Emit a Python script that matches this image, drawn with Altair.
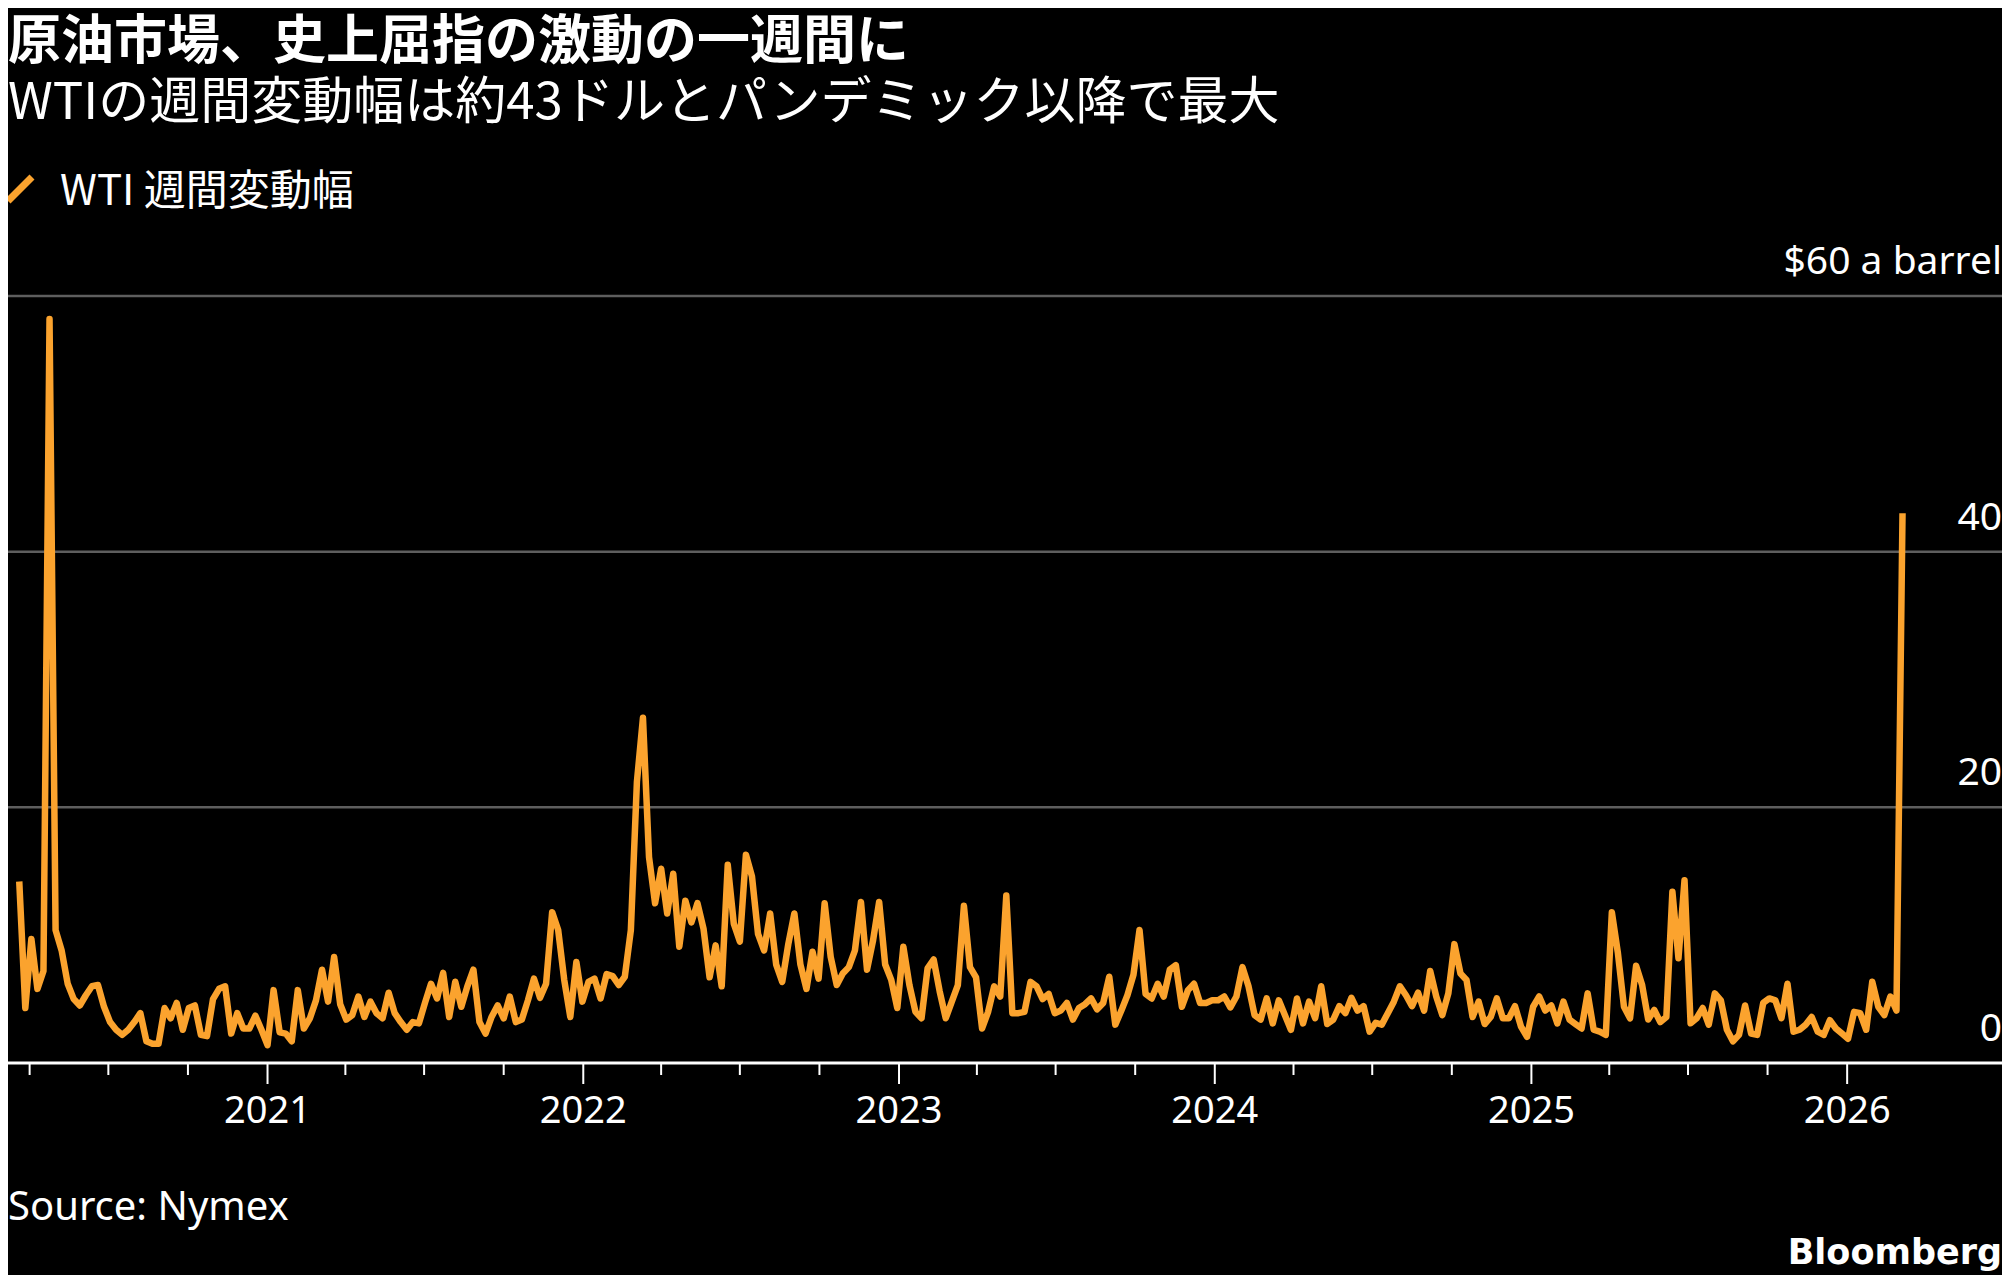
import altair as alt
import pandas as pd

# ---- data (weekly WTI trading range, USD/barrel) ----
wti_2020 = [14.2, 4.3, 9.7, 5.8, 7.2, 58.2, 10.4, 8.8, 6.2, 5.0, 4.5, 5.3, 6.0, 6.1,
            4.4, 3.2, 2.6, 2.2, 2.6, 3.2, 3.9, 1.7, 1.5, 1.5, 4.3, 3.5, 4.7, 2.6,
            4.3, 4.5, 2.2, 2.1, 5.0, 5.8, 6.0, 2.3, 3.9, 2.7, 2.7, 3.7, 2.6]
wti_2021 = [1.4, 5.7, 2.4, 2.3, 1.7, 5.7, 2.7, 3.5, 4.9, 7.3, 4.8, 8.3, 4.6, 3.4,
            3.75, 5.2, 3.6, 4.8, 3.9, 3.5, 5.5, 3.9, 3.2, 2.6, 3.2, 3.1, 4.7, 6.2,
            5.05, 7.05, 3.6, 6.35, 4.4, 6.0, 7.3, 3.2, 2.3, 3.6, 4.5, 3.5, 5.2, 3.2,
            3.4, 4.9, 6.6, 5.1, 6.2, 11.8, 10.4, 6.5, 3.6, 7.9, 4.8]
wti_2022 = [6.35, 6.6, 5.05, 6.95, 6.8, 6.1, 6.75, 10.4, 22.0, 27.0, 16.1, 12.5,
            15.2, 11.7, 14.8, 9.1, 12.7, 11.0, 12.5, 10.5, 6.7, 9.2, 6.0, 15.5,
            10.9, 9.5, 16.3, 14.6, 10.1, 8.8, 11.7, 7.7, 6.35, 9.3, 11.7, 7.7, 5.8,
            8.7, 6.6, 12.5, 8.3, 6.1, 7.0, 7.5, 8.8, 12.6, 7.3, 9.6, 12.6, 7.7, 6.5, 4.3]
wti_2023 = [9.1, 6.1, 4.0, 3.5, 7.4, 8.1, 5.6, 3.5, 4.8, 6.1, 12.3, 7.5, 6.7, 2.7,
            4.0, 6.0, 5.2, 13.1, 3.9, 3.9, 4.0, 6.35, 6.0, 5.0, 5.4, 3.9, 4.1, 4.7,
            3.4, 4.3, 4.6, 5.05, 4.2, 4.7, 6.75, 3.0, 4.1, 5.3, 6.9, 10.4, 5.4, 5.05,
            6.2, 5.2, 7.3, 7.65, 4.4, 5.7, 6.2, 4.7, 4.7, 4.9]
wti_2024 = [4.9, 5.2, 4.35, 5.2, 7.5, 6.0, 3.75, 3.4, 5.05, 3.1, 4.9, 3.75, 2.6,
            5.05, 3.1, 4.8, 3.5, 6.0, 3.05, 3.4, 4.45, 3.9, 5.1, 4.1, 4.45, 2.45,
            3.15, 3.0, 3.9, 4.8, 6.0, 5.3, 4.45, 5.5, 4.1, 7.2, 5.2, 3.75, 5.45, 9.3,
            7.0, 6.5, 3.6, 4.8, 3.05, 3.6, 5.05, 3.5, 3.5, 4.45, 2.85, 2.05]
wti_2025 = [4.4, 5.2, 4.1, 4.5, 3.1, 4.8, 3.4, 3.05, 2.7, 5.45, 2.6, 2.45, 2.2,
            11.8, 8.6, 4.4, 3.5, 7.6, 6.1, 3.4, 4.15, 3.2, 3.6, 13.4, 8.2, 14.3,
            3.1, 3.5, 4.3, 3.0, 5.45, 4.9, 2.6, 1.7, 2.2, 4.5, 2.3, 2.2, 4.7, 5.05,
            4.9, 3.5, 6.2, 2.45, 2.6, 3.0, 3.6, 2.45, 2.2, 3.35, 2.7, 2.3]
wti_2026 = [1.9, 4.0, 3.9, 2.6, 6.35, 4.4, 3.75, 5.2, 4.1, 43.0]

first_week = "2020-03-20"

grid_values = [20, 40, 60]
y_label_values = [0, 20, 40, 60]
y_label_texts = ["0", "20", "40", "$60 a barrel"]

year_ticks = ["2021-01-01", "2022-01-01", "2023-01-01", "2024-01-01",
              "2025-01-01", "2026-01-01"]
year_labels = ["2021", "2022", "2023", "2024", "2025", "2026"]
quarter_ticks = ["2020-04-01", "2020-07-01", "2020-10-01",
                 "2021-04-01", "2021-07-01", "2021-10-01",
                 "2022-04-01", "2022-07-01", "2022-10-01",
                 "2023-04-01", "2023-07-01", "2023-10-01",
                 "2024-04-01", "2024-07-01", "2024-10-01",
                 "2025-04-01", "2025-07-01", "2025-10-01"]

title_text = "原油市場、史上屈指の激動の一週間に"
subtitle_text = "WTIの週間変動幅は約43ドルとパンデミック以降で最大"
legend_text = "WTI 週間変動幅"
source_text = "Source: Nymex"
brand_text = "Bloomberg"

# ---- build ----
values = wti_2020 + wti_2021 + wti_2022 + wti_2023 + wti_2024 + wti_2025 + wti_2026
dates = pd.date_range(first_week, periods=len(values), freq="7D").strftime("%Y-%m-%d").tolist()
line_df = pd.DataFrame({"date": dates, "range": values})

W, H = 1994, 767
ORANGE = "#fba32e"
JP = "Noto Sans CJK JP"
LAT = "Noto Sans"

x_scale = alt.Scale(type="utc", domain=[alt.DateTime(year=2020, month=3, date=7, utc=True),
                                        alt.DateTime(year=2026, month=6, date=29, utc=True)])
y_scale = alt.Scale(domain=[0, 60], nice=False, zero=False)

grid = alt.Chart(pd.DataFrame({"v": grid_values})).mark_rule(
    color="#5e5e5e", strokeWidth=2.5).encode(
    y=alt.Y("v:Q", scale=y_scale, axis=None))

axis_line = alt.Chart(pd.DataFrame({"v": [0]})).mark_rule(
    color="white", strokeWidth=3).encode(
    y=alt.Y("v:Q", scale=y_scale, axis=None))

major = alt.Chart(pd.DataFrame({"d": year_ticks})).mark_rule(
    color="white", strokeWidth=2).encode(
    x=alt.X("d:T", scale=x_scale, axis=None),
    y=alt.value(H), y2=alt.value(H + 21))

minor = alt.Chart(pd.DataFrame({"d": quarter_ticks})).mark_rule(
    color="white", strokeWidth=2).encode(
    x=alt.X("d:T", scale=x_scale, axis=None),
    y=alt.value(H), y2=alt.value(H + 12))

years = alt.Chart(pd.DataFrame({"d": year_ticks, "t": year_labels})).mark_text(
    color="white", font=LAT, fontSize=38, align="center", baseline="middle").encode(
    x=alt.X("d:T", scale=x_scale, axis=None),
    y=alt.value(H + 49), text="t:N")

line = alt.Chart(line_df).mark_line(
    color=ORANGE, strokeWidth=6.5, strokeJoin="round").encode(
    x=alt.X("date:T", scale=x_scale, axis=None),
    y=alt.Y("range:Q", scale=y_scale, axis=None))

ylabels = alt.Chart(pd.DataFrame({"v": y_label_values, "t": y_label_texts})).mark_text(
    color="white", font=LAT, fontSize=39, align="right", baseline="middle", dy=-34).encode(
    y=alt.Y("v:Q", scale=y_scale, axis=None),
    x=alt.value(W), text="t:N")


def label(text, x, y, size, align="left", weight="normal", font=JP):
    return alt.Chart(pd.DataFrame({"t": [text]})).mark_text(
        color="white", font=font, fontSize=size, fontWeight=weight,
        align=align, baseline="middle").encode(
        x=alt.value(x), y=alt.value(y), text="t:N")


title = label(title_text, 0, -253, 53, weight="bold")
subtitle = label(subtitle_text, 0, -192, 51)
legend_lbl = label(legend_text, 52, -104, 42)
source = label(source_text, 0, 912, 40, font=LAT)
brand = label(brand_text, W, 957, 35, align="right", weight="bold", font="DejaVu Sans")

slash = alt.Chart(pd.DataFrame({"a": [0]})).mark_rule(
    color=ORANGE, strokeWidth=7).encode(
    x=alt.value(0), y=alt.value(-95), x2=alt.value(24), y2=alt.value(-119))

chart = alt.layer(
    grid, axis_line, major, minor, line, ylabels, years,
    title, subtitle, slash, legend_lbl, source, brand
).properties(
    width=W, height=H,
    padding={"left": 0, "top": 288, "right": 0, "bottom": 212},
    autosize=alt.AutoSizeParams(type="none"),
    background="#000000",
).configure_view(stroke=None)

chart.save("out.html", embed_options={"renderer": "svg", "actions": False})
